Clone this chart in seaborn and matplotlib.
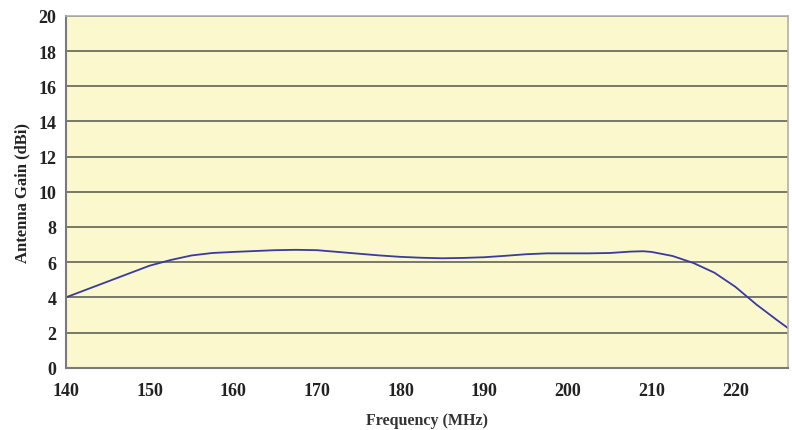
import matplotlib
matplotlib.use('Agg')
import matplotlib.pyplot as plt
import seaborn as sns
import pandas as pd

# Frequency (MHz) and gain (dBi)
frequency = [140, 142.5, 145, 147.5, 150, 152.5, 155, 157.5, 160, 162.5, 165, 167.5,
             170, 172.5, 175, 177.5, 180, 182.5, 185, 187.5, 190, 192.5, 195, 197.5,
             200, 202.5, 205, 207.5, 209, 210, 212.5, 215, 217.5, 220, 222.5, 225, 226.3]
gain = [4.0, 4.45, 4.9, 5.35, 5.8, 6.12, 6.38, 6.52, 6.58, 6.63, 6.68, 6.70,
        6.68, 6.58, 6.48, 6.38, 6.30, 6.25, 6.22, 6.24, 6.28, 6.36, 6.45, 6.50,
        6.50, 6.50, 6.52, 6.60, 6.62, 6.58, 6.35, 5.95, 5.40, 4.6, 3.6, 2.7, 2.25]
x_ticks = [140, 150, 160, 170, 180, 190, 200, 210, 220]
y_ticks = [0, 2, 4, 6, 8, 10, 12, 14, 16, 18, 20]

df = pd.DataFrame({'Frequency': frequency, 'Gain': gain})

sns.set_style('white')
plt.rcParams['font.family'] = ['Liberation Serif', 'DejaVu Serif']
plt.rcParams['font.weight'] = 'bold'

fig = plt.figure(figsize=(7.92, 4.31), dpi=100)
ax = fig.add_axes([0.0833, 0.1445, 0.9117, 0.8165])
ax.set_facecolor('#FAF8CC')

sns.lineplot(data=df, x='Frequency', y='Gain', ax=ax, color='#3A3AA0', linewidth=1.3)

ax.set_xlim(140, 226.3)
ax.set_ylim(0, 20)
ax.set_xticks(x_ticks)
ax.set_yticks(y_ticks)
ax.yaxis.grid(True, color='#6E6E60', linewidth=1.3)
ax.xaxis.grid(False)
ax.set_axisbelow(True)

for side in ['left', 'bottom']:
    ax.spines[side].set_color('#7A7A7A')
    ax.spines[side].set_linewidth(1.5)
for side in ['top', 'right']:
    ax.spines[side].set_color('#B0B0B0')
    ax.spines[side].set_linewidth(1.2)

ax.tick_params(axis='both', direction='out', length=4, width=1, color='#7A7A7A',
               labelsize=13, labelcolor='#222222')
ax.tick_params(axis='x', pad=6)
ax.tick_params(axis='y', pad=3)
for lbl in ax.get_xticklabels() + ax.get_yticklabels():
    lbl.set_fontweight('bold')

ax.set_xlabel('Frequency (MHz)', fontsize=11.5, fontweight='bold', color='#333333', labelpad=10)
ax.set_ylabel('Antenna Gain (dBi)', fontsize=12, fontweight='bold', color='#222222', labelpad=6)

fig.savefig('out.png', dpi=100)
